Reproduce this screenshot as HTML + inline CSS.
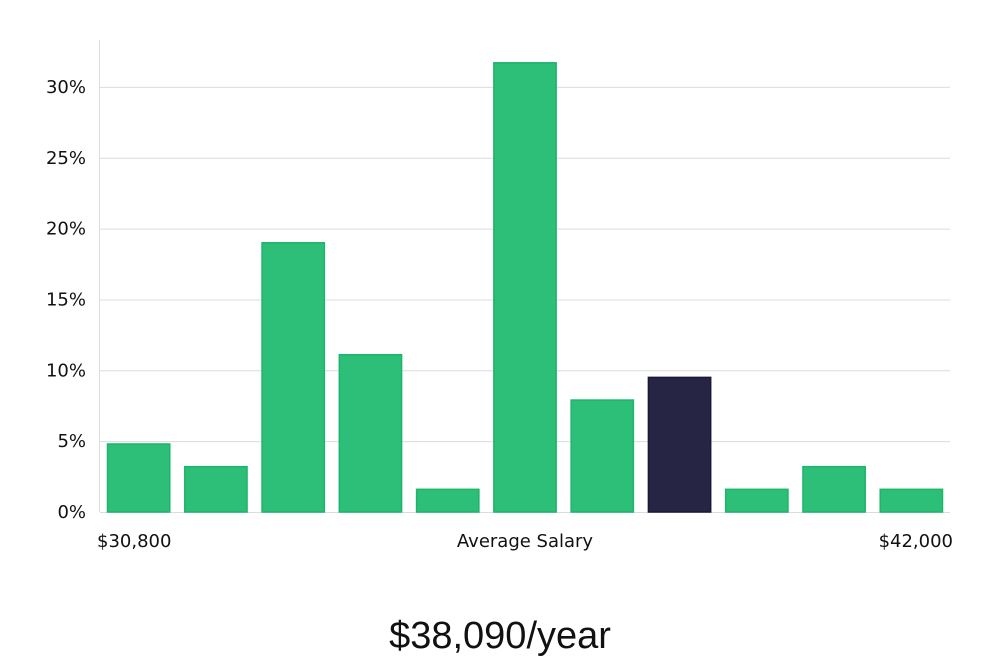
<!DOCTYPE html>
<html><head><meta charset="utf-8"><style>
html,body{margin:0;padding:0;background:#fff;width:1000px;height:660px;overflow:hidden;font-family:"Liberation Sans","DejaVu Sans",sans-serif;}
svg text{font-family:"DejaVu Sans","Liberation Sans",sans-serif;}
</style></head><body>
<svg id="chart" width="1000" height="660" xmlns="http://www.w3.org/2000/svg">
<g id="grid"></g>
<g id="yticks"></g>
<line x1="99.5" y1="40" x2="99.5" y2="512" stroke="#dcdcdc" stroke-width="1"/>
<g id="bars"></g>
<text x="97" y="547" font-size="18" fill="#111">$30,800</text>
<text x="525" y="547" font-size="18" fill="#111" text-anchor="middle">Average Salary</text>
<text x="953" y="547" font-size="18" fill="#111" text-anchor="end">$42,000</text>
<text x="500" y="648" font-size="38" fill="#111" text-anchor="middle" style="font-family:'Liberation Sans',sans-serif;font-weight:300">$38,090/year</text>
</svg>
<script>
const values=[4.8,3.2,19.0,11.1,1.6,31.7,7.9,9.5,1.6,3.2,1.6];
const highlightIndex=[7];
const yTicks=[0,5,10,15,20,25,30];
const yTickLabels=["0%","5%","10%","15%","20%","25%","30%"];
const NS="http://www.w3.org/2000/svg";
const x0=100,x1=950,yBase=512,yPer=14.17;
const y=v=>yBase-v*yPer;
const slot=(x1-x0)/values.length;
const grid=document.getElementById('grid'),yt=document.getElementById('yticks'),bars=document.getElementById('bars');
yTicks.forEach((t,i)=>{
 const l=document.createElementNS(NS,'line');
 
 
 l.setAttribute('x1',x0);l.setAttribute('x2',x1);l.setAttribute('y1',y(t)+0.5);l.setAttribute('y2',y(t)+0.5);
 l.setAttribute('stroke','#dcdcdc');grid.appendChild(l);
 const tx=document.createElementNS(NS,'text');
 
 
 tx.setAttribute('x',86);tx.setAttribute('y',y(t)+6);tx.setAttribute('text-anchor','end');
 tx.setAttribute('font-size','18');tx.setAttribute('fill','#111');tx.textContent=yTickLabels[i];yt.appendChild(tx);
});
values.forEach((v,i)=>{
 const r=document.createElementNS(NS,'rect');
 
 
 const hi=highlightIndex.includes(i);
 r.setAttribute('x',x0+i*slot+7.5);r.setAttribute('width',slot-15);
 r.setAttribute('y',y(v));r.setAttribute('height',yBase-y(v));
 r.setAttribute('fill',hi?'#272544':'#2dbe78');
 r.setAttribute('stroke',hi?'#1a1838':'#1db56c');r.setAttribute('stroke-width','1.5');
 bars.appendChild(r);
});
</script>
</body></html>
